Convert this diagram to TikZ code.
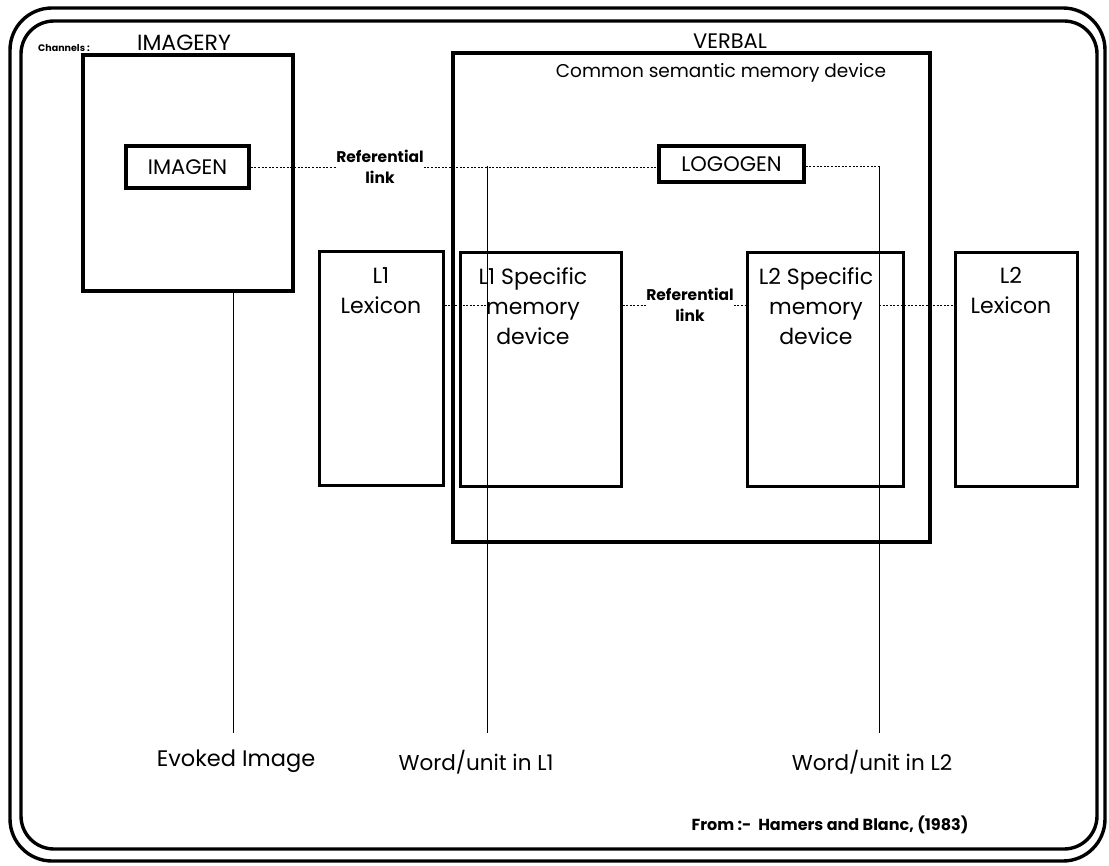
\documentclass[tikz,border=0pt]{standalone}
\usepackage{fontspec}
\setmainfont{Poppins}
\begin{document}
\begin{tikzpicture}[x=1pt,y=-1pt,
  frame/.style={draw, line width=3.4pt},
  box/.style={draw, line width=3.4pt, inner sep=0pt, rectangle},
  thinbox/.style={draw, line width=3pt, inner sep=0pt, rectangle},
  link/.style={line width=0.9pt, dash pattern=on 2pt off 1.6pt},
  drop/.style={line width=0.9pt},
  txt/.style={inner sep=0pt, align=center, font=\fontsize{#1}{#1}\selectfont},
  btxt/.style={inner sep=0pt, align=center, font=\fontsize{#1}{#1}\selectfont\bfseries},
  boxtxt/.style={inner sep=0pt, align=center, font=\fontsize{22}{30}\selectfont, anchor=north},
  reftxt/.style={inner sep=0pt, align=center, font=\fontsize{15.5}{21}\selectfont\bfseries},
]
\useasboundingbox (0,0) rectangle (1109,866);
% outer double frame
\draw[frame, rounded corners=42pt] (10,8) rectangle (1105,861);
\draw[frame, rounded corners=33pt] (21,21) rectangle (1097,849);

% titles
\node[btxt=9.5] (channels) at (64,48) {Channels :};
\node[txt=22, anchor=base] (imagerylbl) at (184,51) {IMAGERY};
\node[txt=21, anchor=base] (verballbl) at (730,49) {VERBAL};

% main boxes
\node[box, minimum width=210, minimum height=236] (imagery) at (188,173) {};
\node[box, minimum width=123, minimum height=42, font=\fontsize{21}{24}\selectfont] (imagen) at (187.5,167) {IMAGEN};
\node[box, minimum width=477, minimum height=489] (common) at (691.5,297.5) {};
\node[txt=18.5] (commonlbl) at (721,73) {Common semantic memory device};
\node[box, minimum width=145, minimum height=36, font=\fontsize{21}{24}\selectfont] (logogen) at (731.5,164) {LOGOGEN};

\node[thinbox, minimum width=124, minimum height=234] (l1lex) at (381,369) {};
\node[thinbox, minimum width=161, minimum height=234] (l1spec) at (540.5,370) {};
\node[thinbox, minimum width=156, minimum height=234] (l2spec) at (825,370) {};
\node[thinbox, minimum width=122, minimum height=234] (l2lex) at (1016,370) {};

\node[boxtxt] (l1lextxt) at (381,267) {L1\\Lexicon};
\node[boxtxt] (l1spectxt) at (533,267) {L1 Specific\\memory\\device};
\node[boxtxt] (l2spectxt) at (816,267) {L2 Specific\\memory\\device};
\node[boxtxt] (l2lextxt) at (1011,267) {L2\\Lexicon};

% referential link labels
\node[reftxt] (ref1) at (380,167) {Referential\\link};
\node[reftxt] (ref2) at (690,305) {Referential\\link};

% bottom labels
\node[txt=22.5] (evoked) at (236,761) {Evoked Image};
\node[txt=21.5] (word1) at (476,762) {Word/unit in L1};
\node[txt=21.5] (word2) at (872,762) {Word/unit in L2};
\node[btxt=16] (source) at (830,825) {From :-\ \ Hamers and Blanc, (1983)};

% helper coordinates
\coordinate (d1top) at (487,166);
\coordinate (d1bot) at (487,733);
\coordinate (d2top) at (879,166);
\coordinate (d2bot) at (879,733);
\coordinate (evtop) at (233,291);
\coordinate (evbot) at (233,733);
\coordinate (m1) at (487,305);
\coordinate (m2) at (879,305);

% referential link IMAGEN -- LOGOGEN
\draw[link] (imagen.east) -- (ref1.west |- imagen.east);
\draw[link] (ref1.east |- imagen.east) -- (logogen.west |- imagen.east);
\draw[link] (logogen.east |- d2top) -- (d2top);

% vertical channels
\draw[drop] (evtop) -- (evbot);
\draw[drop] (d1top) -- (d1bot);
\draw[drop] (d2top) -- (d2bot);

% lexicon / specific links
\draw[link] (l1lex.east |- m1) -- (m1);
\draw[link] (l1spec.east |- ref2) -- (ref2.west);
\draw[link] (ref2.east) -- (l2spec.west |- ref2);
\draw[link] (m2) -- (l2lex.west |- m2);
\end{tikzpicture}
\end{document}
